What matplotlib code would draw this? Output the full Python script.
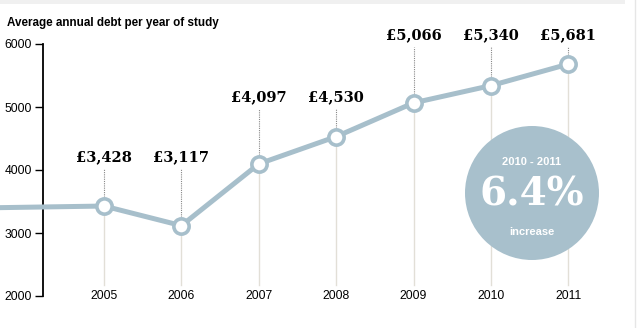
import matplotlib.pyplot as plt
from matplotlib.patches import Ellipse, Rectangle
from matplotlib.lines import Line2D

# data
years = [2005, 2006, 2007, 2008, 2009, 2010, 2011]
debt = [3428, 3117, 4097, 4530, 5066, 5340, 5681]
labels = ["£3,428", "£3,117", "£4,097", "£4,530", "£5,066", "£5,340", "£5,681"]
# line runs in from off the left edge of the chart
lead_year = 2003
lead_debt = 3390
yticks = [2000, 3000, 4000, 5000, 6000]

# label heights (layout, in data units)
label_y = [4210, 4210, 5160, 5160, 6145, 6145, 6145]

line_col = "#a7bfcb"
W, H = 637, 328

fig = plt.figure(figsize=(W / 100, H / 100), dpi=100)
ax = fig.add_axes([0, 0, 1, 1])
ax.set_xlim(2005 - 104 / 77.4, 2005 + 533 / 77.4)
ax.set_ylim(2000 - 32 / 63 * 1000, 2000 + 296 / 63 * 1000)

for s in ["top", "right", "bottom"]:
    ax.spines[s].set_visible(False)
ax.spines["left"].set_position(("data", 2005 - 61 / 77.4))
ax.spines["left"].set_bounds(2000, 6000)
ax.spines["left"].set_linewidth(1.3)
ax.set_yticks(yticks)
ax.set_yticklabels([str(t) for t in yticks], family="Liberation Sans", fontsize=8.7)
ax.tick_params(axis="y", length=6, width=1, pad=2)
ax.set_xticks([])

# grid lines below and dotted leaders above each point
for x, v, ly in zip(years, debt, label_y):
    ax.plot([x, x], [2170, v], color="#e2dfd7", lw=1, zorder=1)
    ax.plot([x, x], [v, ly - 190], color="#888888", lw=0.8, ls=(0, (1, 1)), zorder=1)
    ax.text(x, 2000, str(x), ha="center", va="center", family="Liberation Sans", fontsize=8.7)

ax.plot([lead_year] + years, [lead_debt] + debt, color=line_col, lw=3.6, zorder=3,
        solid_capstyle="butt")
ax.plot(years, debt, ls="none", marker="o", ms=11, mfc="white", mec=line_col, mew=2.6, zorder=4)

for x, lab, ly in zip(years, labels, label_y):
    ax.text(x, ly, lab, ha="center", va="center", family="DejaVu Serif",
            fontweight="bold", fontsize=10.5)

fig.text(7 / W, 1 - 23 / H, "Average annual debt per year of study", family="Liberation Sans",
         fontweight="bold", fontsize=8.4, va="center", ha="left")

# callout circle
cx, cy, r = 532, 193, 67
fig.patches.append(Ellipse((cx / W, 1 - cy / H), 2 * r / W, 2 * r / H, transform=fig.transFigure,
                           facecolor="#a8c0cc", edgecolor="none", zorder=5))
fig.text(cx / W, 1 - 162 / H, "2010 - 2011", color="white", family="Liberation Sans",
         fontweight="bold", fontsize=8, ha="center", va="center", zorder=6)
fig.text(cx / W, 1 - 195 / H, "6.4%", color="white", family="DejaVu Serif",
         fontweight="bold", fontsize=28, ha="center", va="center", zorder=6)
fig.text(cx / W, 1 - 232 / H, "increase", color="white", family="Liberation Sans",
         fontweight="bold", fontsize=8, ha="center", va="center", zorder=6)

# page decoration
fig.patches.append(Rectangle((0, 1 - 4 / H), 625 / W, 4 / H, transform=fig.transFigure,
                             facecolor="#f0f0f0", edgecolor="none"))
fig.lines.append(Line2D([635 / W, 635 / W], [0, 1], transform=fig.transFigure,
                        color="#e6e6e6", lw=1))

fig.savefig("out.png", dpi=100)
